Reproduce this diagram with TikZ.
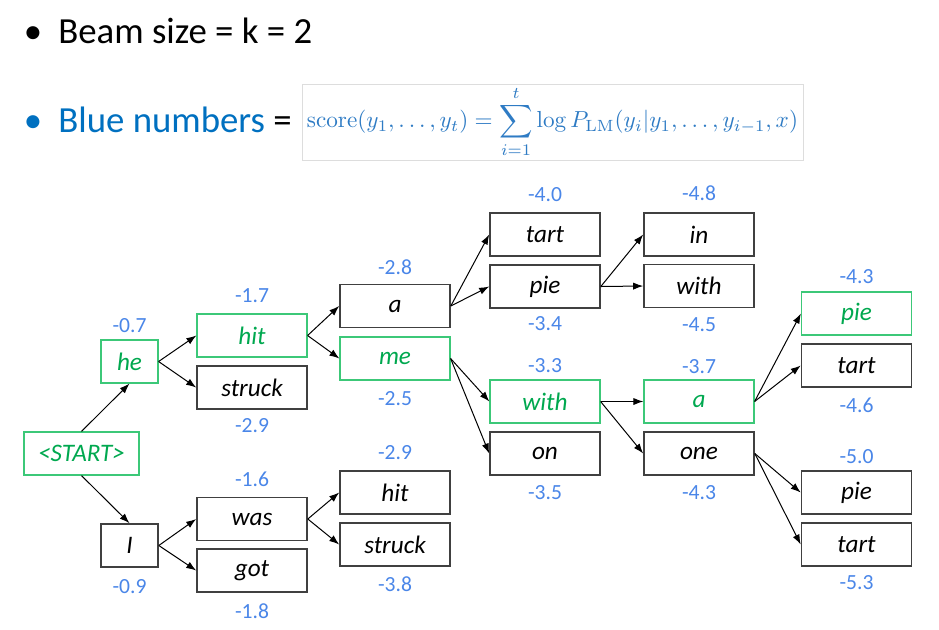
\documentclass[tikz,border=0pt]{standalone}
\usepackage{amsmath,amssymb}
\usepackage{graphicx}
\usepackage[no-math]{fontspec}
\setmainfont{Carlito}
\usepackage{xcolor}
\usepackage{tikz}
\usetikzlibrary{arrows.meta}

\definecolor{boxgray}{HTML}{404040}
\definecolor{pickgreen}{HTML}{3CC878}
\definecolor{wordgreen}{HTML}{00A84F}
\definecolor{scoreblue}{HTML}{4A86E8}
\definecolor{headblue}{HTML}{0070C0}
\definecolor{mathblue}{HTML}{2E7BC4}
\definecolor{framegray}{HTML}{DDDDDD}

\tikzset{
  word/.style={draw=boxgray, line width=0.8pt, minimum width=55pt, minimum height=21.5pt,
    inner sep=0pt, font=\fontsize{12.6}{14}\selectfont\itshape},
  pick/.style={word, draw=pickgreen, line width=0.6pt, text=wordgreen},
  score/.style={font=\fontsize{10.8}{12}\selectfont, text=scoreblue, inner sep=0pt},
  edge/.style={-{Latex[length=5pt,width=3.6pt]}, line width=0.5pt},
  head/.style={anchor=base west, inner sep=0pt, font=\fontsize{18.4}{22}\selectfont}
}

\begin{document}
\begin{tikzpicture}[x=0.5pt, y=-0.5pt]
            \useasboundingbox (0,0) rectangle (939,629);

            % Header lines
            \node[head, anchor=base] (dot1) at (33,43) {•};
            \node[head] (beam) at (58,43) {Beam size = k = 2};
            \node[head, anchor=base, text=headblue] (dot2) at (33,132) {•};
            \node[head] (blue) at (58,132) {\textcolor{headblue}{Blue numbers} =};
            \node[draw=framegray, line width=0.5pt, minimum width=250.5pt, minimum height=38pt,
                inner sep=0pt, text=mathblue] (formula) at (552.5,122)
                {\scalebox{1.16}{$\displaystyle \operatorname{score}(y_1,\ldots,y_t)=\sum_{i=1}^{t}\log P_{\mathrm{LM}}(y_i|y_1,\ldots,y_{i-1},x)$}};

            % Step 0 and 1
            \node[pick, minimum width=57.5pt] (start) at (81.5,453.5) {<START>};
            \node[pick, minimum width=28.5pt] (he) at (129.5,361.5) {he};
            \node[word, minimum width=28.5pt] (I) at (129.5,545.5) {I};
            \node[score] (she) at (129.5,326) {-0.7};
            \node[score] (sI) at (129.5,587) {-0.9};

            % Step 2
            \node[pick] (hit) at (252,335.5) {hit};
            \node[word] (struck) at (252,387.5) {struck};
            \node[word] (was) at (252,519) {was};
            \node[word] (got) at (252,570.5) {got};
            \node[score] (shit) at (252,296) {-1.7};
            \node[score] (sstruck) at (252,426) {-2.9};
            \node[score] (swas) at (252,479) {-1.6};
            \node[score] (sgot) at (252,611) {-1.8};

            % Step 3
            \node[word] (a) at (395,306) {a};
            \node[pick] (me) at (395,358.5) {me};
            \node[word] (hitb) at (395,492.5) {hit};
            \node[word] (struckb) at (395,544.5) {struck};
            \node[score] (sa) at (395,267) {-2.8};
            \node[score] (sme) at (395,399) {-2.5};
            \node[score] (shitb) at (395,453) {-2.9};
            \node[score] (sstruckb) at (395,584) {-3.8};

            % Step 4
            \node[word] (tart) at (545,234.5) {tart};
            \node[word] (pie) at (545,286.5) {pie};
            \node[pick] (with) at (545,401.5) {with};
            \node[word] (on) at (545,453.5) {on};
            \node[score] (start4) at (545,195) {-4.0};
            \node[score] (spie) at (545,324) {-3.4};
            \node[score] (swith) at (545,366) {-3.3};
            \node[score] (son) at (545,493) {-3.5};

            % Step 5
            \node[word] (in) at (699,234.5) {in};
            \node[word] (withb) at (699,286) {with};
            \node[pick] (ab) at (699,401.5) {a};
            \node[word] (one) at (699,453.5) {one};
            \node[score] (sin) at (699,193) {-4.8};
            \node[score] (swithb) at (699,325) {-4.5};
            \node[score] (sab) at (699,367) {-3.7};
            \node[score] (sone) at (699,493) {-4.3};

            % Step 6
            \node[pick] (pieb) at (856.5,313.5) {pie};
            \node[word] (tartb) at (856.5,365.5) {tart};
            \node[word] (piec) at (856.5,492.5) {pie};
            \node[word] (tartc) at (856.5,544.5) {tart};
            \node[score] (spieb) at (856.5,277) {-4.3};
            \node[score] (startb) at (856.5,405) {-4.6};
            \node[score] (spiec) at (856.5,457) {-5.0};
            \node[score] (startc) at (856.5,583) {-5.3};

            % Edges
            \draw[edge] (start.north) -- (he.south);
            \draw[edge] (start.south) -- (I.north);
            \draw[edge] (he.east) -- (hit.west);
            \draw[edge] (he.east) -- (struck.west);
            \draw[edge] (I.east) -- (was.west);
            \draw[edge] (I.east) -- (got.west);
            \draw[edge] (hit.east) -- (a.west);
            \draw[edge] (hit.east) -- (me.west);
            \draw[edge] (was.east) -- (hitb.west);
            \draw[edge] (was.east) -- (struckb.west);
            \draw[edge] (a.east) -- (tart.west);
            \draw[edge] (a.east) -- (pie.west);
            \draw[edge] (me.east) -- (with.west);
            \draw[edge] (me.east) -- (on.west);
            \draw[edge] (pie.east) -- (in.west);
            \draw[edge] (pie.east) -- (withb.west);
            \draw[edge] (with.east) -- (ab.west);
            \draw[edge] (with.east) -- (one.west);
            \draw[edge] (ab.east) -- (pieb.west);
            \draw[edge] (ab.east) -- (tartb.west);
            \draw[edge] (one.east) -- (piec.west);
            \draw[edge] (one.east) -- (tartc.west);
\end{tikzpicture}
\end{document}
